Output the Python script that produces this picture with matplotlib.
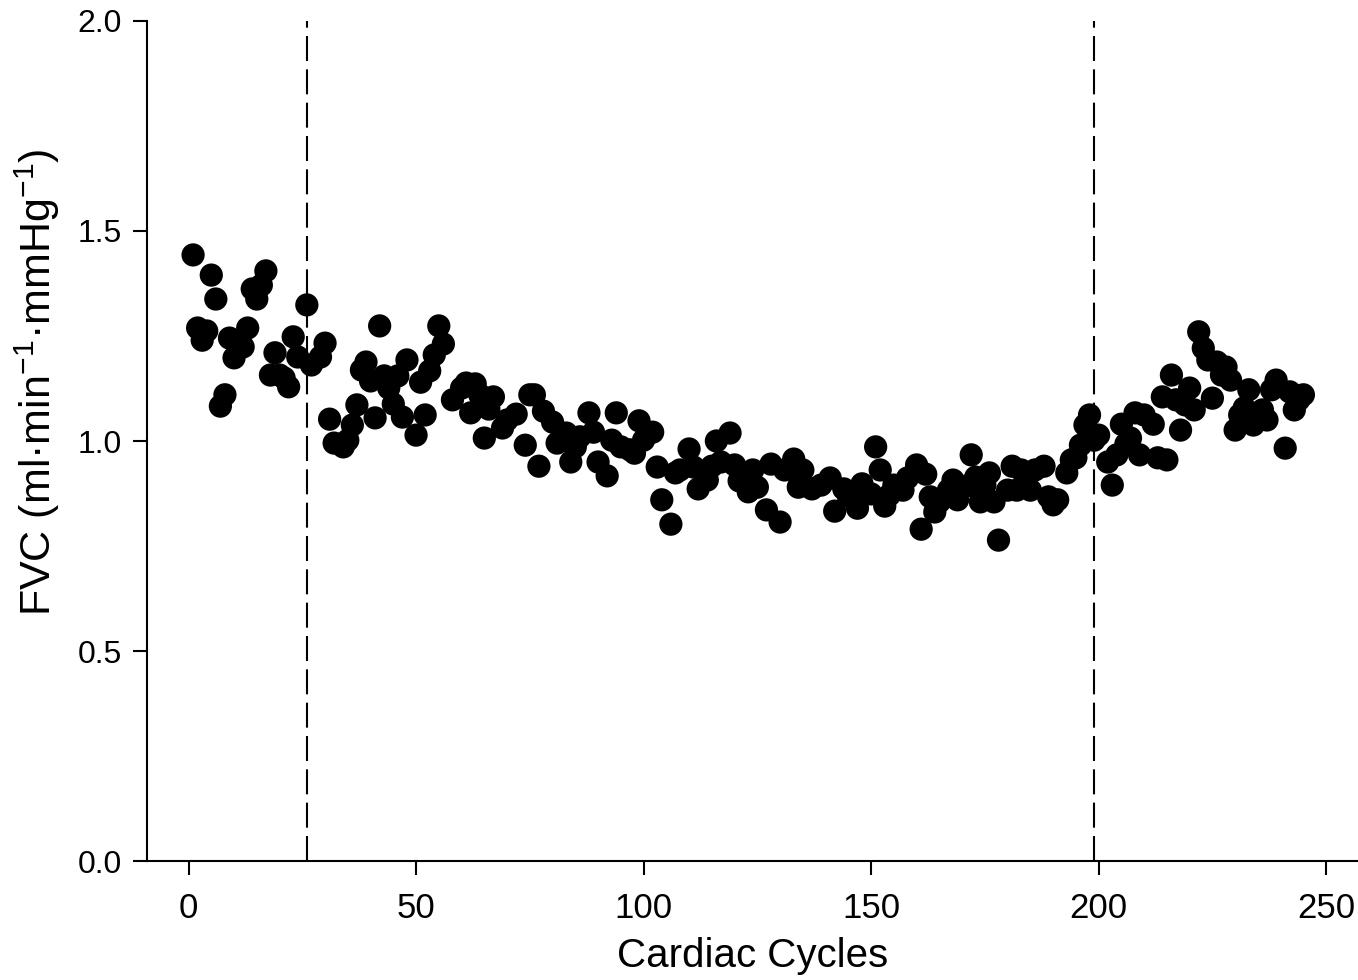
import matplotlib
matplotlib.use("Agg")
import matplotlib.pyplot as plt

plt.rcParams['font.family'] = ['Liberation Sans', 'DejaVu Sans']
plt.rcParams['mathtext.fontset'] = 'custom'
plt.rcParams['mathtext.rm'] = 'Liberation Sans'
plt.rcParams['mathtext.it'] = 'Liberation Sans'

# cardiac cycle number and FVC value
ciclos = [1, 2, 3, 4, 5, 6, 7, 8, 9, 10, 12, 13, 14, 15, 16, 17, 18, 19, 20, 21,
          22, 23, 24, 26, 27, 29, 30, 31, 32, 34, 35, 36, 37, 38, 39, 40, 41, 42, 43, 44,
          45, 46, 47, 48, 50, 51, 52, 53, 54, 55, 56, 58, 60, 61, 62, 63, 64, 65, 66, 67,
          69, 70, 72, 74, 75, 76, 77, 78, 80, 81, 83, 84, 85, 86, 88, 89, 90, 92, 93, 94,
          95, 97, 98, 99, 100, 102, 103, 104, 106, 107, 108, 110, 111, 112, 114, 115, 116, 117, 119, 120,
          121, 123, 124, 125, 127, 128, 130, 131, 133, 134, 135, 137, 139, 141, 142, 144, 145, 147, 148, 150,
          151, 152, 153, 154, 155, 157, 158, 160, 161, 162, 163, 164, 165, 167, 168, 169, 171, 172, 173, 174,
          175, 176, 177, 178, 180, 181, 182, 183, 185, 186, 188, 189, 190, 191, 193, 194, 195, 196, 197, 198,
          199, 200, 202, 203, 204, 205, 206, 207, 208, 209, 210, 212, 213, 214, 215, 216, 217, 218, 219, 220,
          221, 222, 223, 224, 225, 226, 227, 228, 229, 230, 231, 232, 233, 234, 235, 236, 237, 238, 239, 241,
          242, 243, 244, 245]
fvc = [1.443, 1.269, 1.240, 1.262, 1.395, 1.338, 1.083, 1.110, 1.245, 1.198, 1.224, 1.269, 1.362, 1.338, 1.371, 1.405, 1.157, 1.210, 1.157, 1.150,
       1.129, 1.248, 1.200, 1.324, 1.181, 1.200, 1.233, 1.052, 0.995, 0.986, 1.002, 1.038, 1.086, 1.169, 1.188, 1.143, 1.055, 1.274, 1.155, 1.126,
       1.088, 1.155, 1.057, 1.193, 1.014, 1.140, 1.062, 1.167, 1.205, 1.274, 1.231, 1.098, 1.126, 1.138, 1.067, 1.136, 1.110, 1.007, 1.076, 1.105,
       1.031, 1.050, 1.064, 0.990, 1.110, 1.110, 0.940, 1.071, 1.045, 0.995, 1.019, 0.950, 0.986, 1.010, 1.067, 1.021, 0.950, 0.917, 1.002, 1.067,
       0.986, 0.979, 0.971, 1.048, 1.002, 1.021, 0.938, 0.860, 0.802, 0.924, 0.931, 0.981, 0.938, 0.886, 0.907, 0.940, 1.000, 0.950, 1.019, 0.943,
       0.905, 0.879, 0.931, 0.890, 0.836, 0.945, 0.807, 0.931, 0.957, 0.890, 0.931, 0.886, 0.895, 0.912, 0.833, 0.886, 0.869, 0.840, 0.898, 0.874,
       0.986, 0.931, 0.845, 0.871, 0.895, 0.883, 0.912, 0.943, 0.790, 0.921, 0.867, 0.831, 0.855, 0.883, 0.907, 0.860, 0.893, 0.967, 0.914, 0.855,
       0.895, 0.924, 0.855, 0.764, 0.883, 0.940, 0.883, 0.931, 0.883, 0.931, 0.940, 0.867, 0.848, 0.860, 0.924, 0.955, 0.960, 0.990, 1.038, 1.062,
       1.002, 1.014, 0.950, 0.895, 0.967, 1.040, 0.993, 1.007, 1.067, 0.967, 1.062, 1.040, 0.960, 1.105, 0.955, 1.157, 1.098, 1.026, 1.086, 1.126,
       1.074, 1.260, 1.221, 1.193, 1.102, 1.188, 1.157, 1.176, 1.145, 1.026, 1.062, 1.079, 1.122, 1.038, 1.062, 1.074, 1.050, 1.122, 1.145, 0.983,
       1.117, 1.074, 1.098, 1.110]

marcas = [26, 199]

fig = plt.figure(figsize=(13.58, 9.8), dpi=100)
ax = fig.add_axes([0.108, 0.1214, 0.892, 0.8572])

for m in marcas:
    ax.axvline(m, color='black', linestyle=(0, (12, 4)), linewidth=1.5, zorder=1)

ax.scatter(ciclos, fvc, s=280, color='black', edgecolors='none', zorder=2)

ax.set_xlim(-9.2, 257)
ax.set_ylim(0, 2.0)
ax.set_xticks([0, 50, 100, 150, 200, 250])
ax.set_yticks([0.0, 0.5, 1.0, 1.5, 2.0])
ax.set_yticklabels(['0.0', '0.5', '1.0', '1.5', '2.0'])

ax.spines['top'].set_visible(False)
ax.spines['right'].set_visible(False)
ax.spines['left'].set_linewidth(1.5)
ax.spines['bottom'].set_linewidth(1.5)
ax.tick_params(direction='out', length=10, width=1.5)
ax.tick_params(axis='x', pad=12, labelsize=25)
ax.tick_params(axis='y', pad=8, labelsize=23)

ax.set_xlabel('Cardiac Cycles', fontsize=29, labelpad=9)
ax.set_ylabel('FVC (ml·min$^{-1}$·mmHg$^{-1}$)', fontsize=31)
ax.yaxis.set_label_coords(-0.07, 0.57)

fig.savefig('out.png', dpi=100)
